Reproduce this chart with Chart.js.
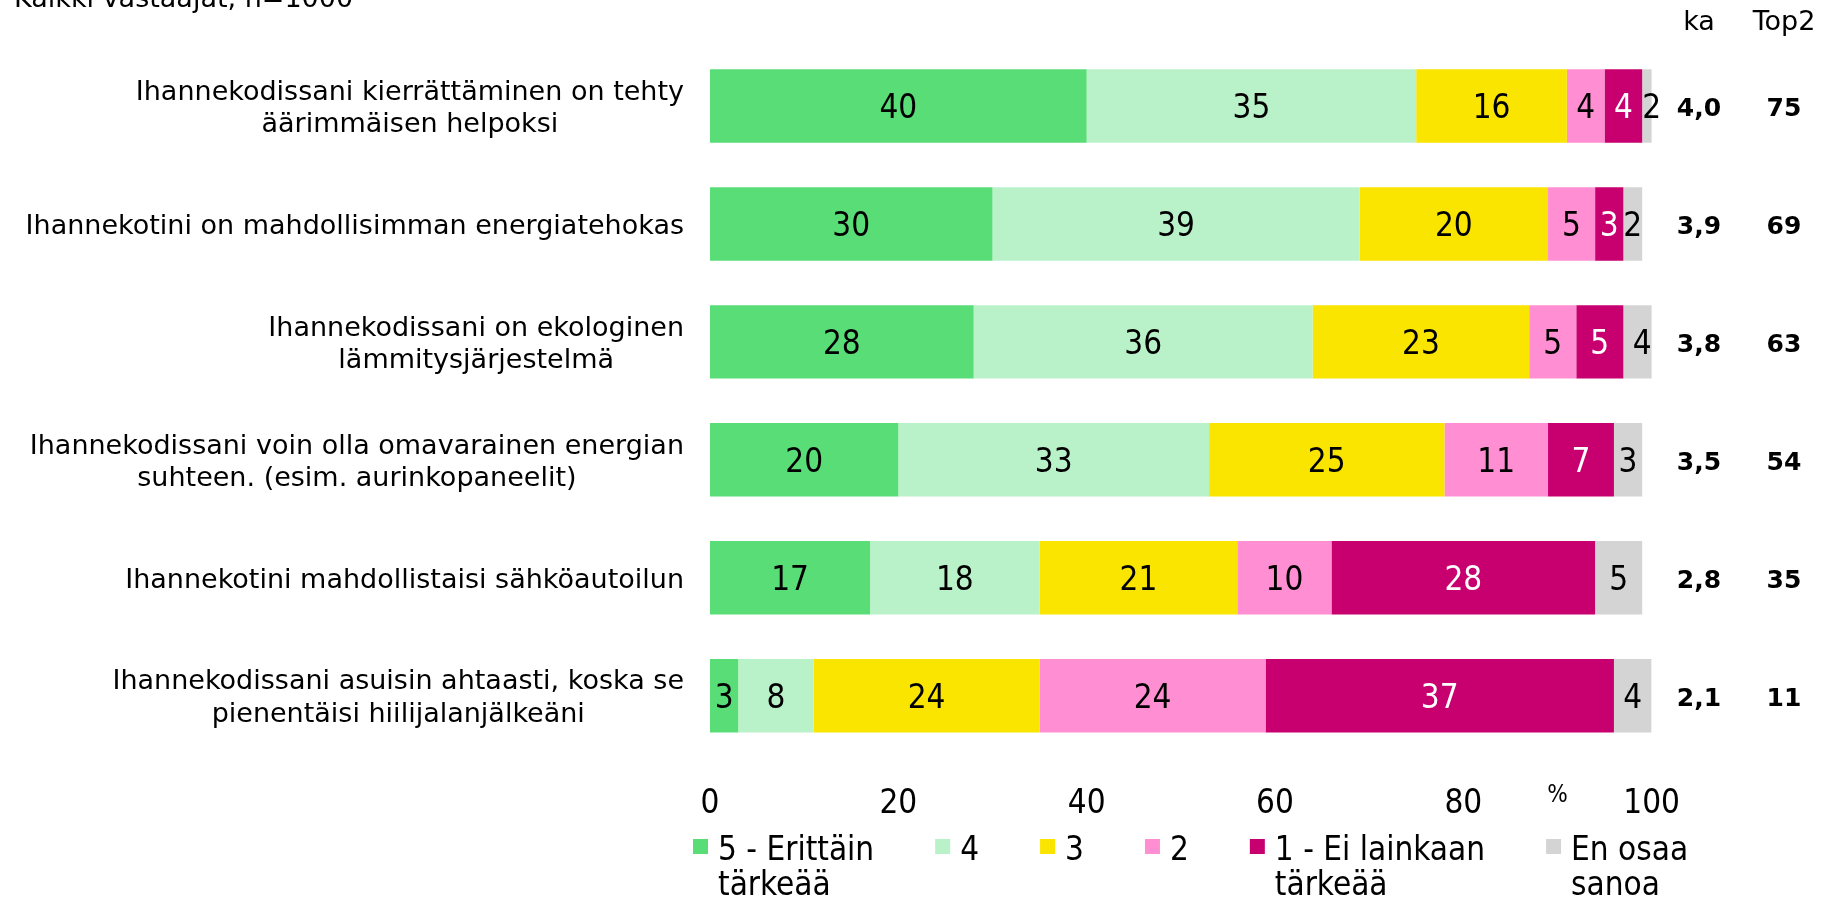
<!DOCTYPE html>
<html><head><meta charset="utf-8">
<script src="https://cdn.jsdelivr.net/npm/chart.js@4"></script>
<style>html,body{margin:0;padding:0;background:#fff;overflow:hidden}#wrap{width:1825px;height:899px;position:relative}canvas{display:block}</style>
</head><body><div id="wrap"><canvas id="c" width="1825" height="899" style="width:1825px;height:899px"></canvas></div>
<script>
const categories = [
  ["Ihannekodissani kierrättäminen on tehty", "äärimmäisen helpoksi"],
  ["Ihannekotini on mahdollisimman energiatehokas"],
  ["Ihannekodissani on ekologinen", "lämmitysjärjestelmä"],
  ["Ihannekodissani voin olla omavarainen energian", "suhteen. (esim. aurinkopaneelit)"],
  ["Ihannekotini mahdollistaisi sähköautoilun"],
  ["Ihannekodissani asuisin ahtaasti, koska se", "pienentäisi hiilijalanjälkeäni"]
];
const seriesNames = ["5 - Erittäin tärkeää", "4", "3", "2", "1 - Ei lainkaan tärkeää", "En osaa sanoa"];
const legendLines = [["5 - Erittäin", "tärkeää"], ["4"], ["3"], ["2"], ["1 - Ei lainkaan", "tärkeää"], ["En osaa", "sanoa"]];
const s5 = [40, 30, 28, 20, 17, 3];
const s4 = [35, 39, 36, 33, 18, 8];
const s3 = [16, 20, 23, 25, 21, 24];
const s2 = [4, 5, 5, 11, 10, 24];
const s1 = [4, 3, 5, 7, 28, 37];
const sEos = [2, 2, 4, 3, 5, 4];
const kaValues = ["4,0", "3,9", "3,8", "3,5", "2,8", "2,1"];
const top2Values = ["75", "69", "63", "54", "35", "11"];
const xTickLabels = {0: "0", 20: "20", 40: "40", 60: "60", 80: "80", 90: "%", 100: "100"};
const columnHeaders = ["ka", "Top2"];
const titleText = "Kaikki vastaajat, n=1000";

const seriesValues = [s5, s4, s3, s2, s1, sEos];
const colors = ["#58DD77", "#B9F2C9", "#FAE500", "#FF8FD2", "#C8006F", "#D4D4D4"];
const labelColors = ["#000", "#000", "#000", "#000", "#fff", "#000"];
const FF = "'DejaVu Sans', Verdana, sans-serif";
const FC = "'DejaVu Sans Condensed', 'DejaVu Sans', sans-serif";

const overlay = {
  id: 'overlay',
  afterDatasetsDraw(chart) {
    const ctx = chart.ctx;
    ctx.save();
    ctx.font = "33px " + FC;
    ctx.textAlign = "center";
    ctx.textBaseline = "alphabetic";
    chart.data.datasets.forEach((ds, i) => {
      const meta = chart.getDatasetMeta(i);
      meta.data.forEach((el, j) => {
        const p = el.getProps(['x', 'y', 'base'], true);
        const cx = (p.x + p.base) / 2;
        ctx.fillStyle = labelColors[i];
        ctx.fillText(String(ds.data[j]), cx, p.y + 12.3);
      });
    });
    ctx.restore();
  },
  afterDraw(chart) {
    const ctx = chart.ctx;
    const yS = chart.scales.y;
    ctx.save();
    ctx.fillStyle = "#000";
    ctx.font = "27px " + FF;
    ctx.textBaseline = "alphabetic";
    ctx.textAlign = "center";
    const right = 684, lh = 32.6;
    categories.forEach((lines, i) => {
      const cy = yS.getPixelForValue(i);
      const maxW = Math.max(...lines.map(l => ctx.measureText(l).width));
      const cx = right - maxW / 2;
      const n = lines.length;
      lines.forEach((l, k) => {
        const ly = cy + (k - (n - 1) / 2) * lh + 10;
        ctx.fillText(l, cx, ly);
      });
    });
    const colX = [1699, 1784];
    ctx.font = "27px " + FF;
    columnHeaders.forEach((h, k) => ctx.fillText(h, colX[k], 30));
    ctx.font = "bold 25px " + FF;
    kaValues.forEach((v, i) => {
      const cy = yS.getPixelForValue(i);
      ctx.fillText(v, colX[0], cy + 10);
      ctx.fillText(top2Values[i], colX[1], cy + 10);
    });
    ctx.textAlign = "left";
    ctx.font = "27px " + FF;
    ctx.fillText(titleText, 14, 7);
    ctx.font = "33px " + FC;
    let x = 693;
    const boxTop = 839, base1 = 860, lh2 = 35;
    legendLines.forEach((lines, i) => {
      ctx.fillStyle = colors[i];
      ctx.fillRect(x, boxTop, 15, 15);
      ctx.fillStyle = "#000";
      const tx = x + 25;
      lines.forEach((l, k) => ctx.fillText(l, tx, base1 + k * lh2));
      x = tx + ctx.measureText(lines[0]).width + 61;
    });
    ctx.restore();
  }
};

new Chart(document.getElementById('c'), {
  type: 'bar',
  data: {
    labels: categories,
    datasets: seriesValues.map((vals, i) => ({
      label: seriesNames[i],
      data: vals,
      backgroundColor: colors[i],
      borderWidth: 0,
      barPercentage: 0.623,
      categoryPercentage: 1,
      clip: 0
    }))
  },
  options: {
    indexAxis: 'y',
    responsive: false,
    maintainAspectRatio: false,
    animation: false,
    devicePixelRatio: 1,
    layout: {padding: {left: 0, right: 173.4, top: 47, bottom: 84.3}},
    plugins: {legend: {display: false}, tooltip: {enabled: false}},
    scales: {
      x: {
        stacked: true,
        min: 0, max: 100,
        grid: {display: false, drawTicks: false},
        border: {display: false},
        afterFit(scale) { scale.height = 60; },
        ticks: {
          stepSize: 10,
          autoSkip: false,
          maxRotation: 0,
          padding: 30,
          color: "#000",
          callback: v => (xTickLabels[v] !== undefined ? xTickLabels[v] : ""),
          font: ctx => (ctx.tick && ctx.tick.value === 90) ? {family: FC, size: 24, lineHeight: 0.95} : {family: FC, size: 33}
        }
      },
      y: {
        stacked: true,
        grid: {display: false, drawTicks: false},
        border: {display: false},
        ticks: {display: false},
        afterFit(scale) { scale.width = 710; }
      }
    }
  },
  plugins: [overlay]
});
</script>
</body></html>
